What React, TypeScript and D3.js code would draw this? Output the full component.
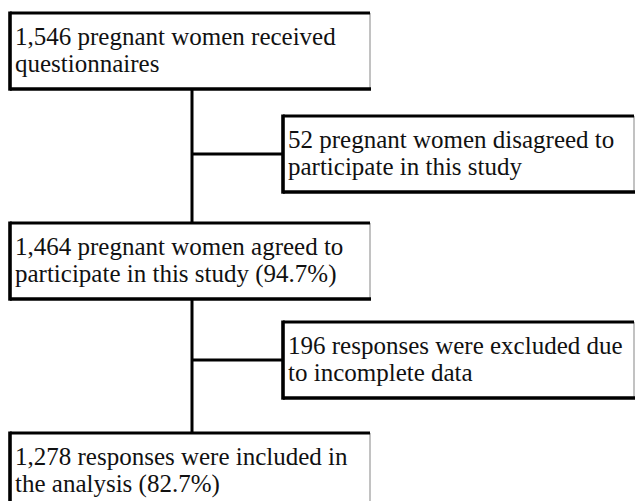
import React from "react";
import * as d3 from "d3";

const mainSteps: string[][] = [
  ["1,546 pregnant women received", "questionnaires"],
  ["1,464 pregnant women agreed to", "participate in this study (94.7%)"],
  ["1,278 responses were included in", "the analysis (82.7%)"],
];
const sideSteps: string[][] = [
  ["52 pregnant women disagreed to", "participate in this study"],
  ["196 responses were excluded due", "to incomplete data"],
];

const W = 637;
const H = 501;
const BOX_H = 76;
const mainX0 = 10, mainX1 = 370;
const sideX0 = 283, sideX1 = 634;
const spine = 192;
const mainTops = [13, 223, 433];
const sideTops = [116, 322];

const FONT = "'Liberation Serif', 'Times New Roman', serif";

function Box({ x0, x1, y0, lines }: { x0: number; x1: number; y0: number; lines: string[] }) {
  const y1 = y0 + BOX_H;
  const ly = d3.scaleLinear().domain([0, 1]).range([y0 + 32, y0 + 59]);
  return (
    <g>
      <rect x={x0} y={y0} width={x1 - x0} height={BOX_H} fill="#fff" />
      <line x1={x1} y1={y0} x2={x1} y2={y1} stroke="#999" strokeWidth={1.2} />
      <line x1={x0} y1={y0} x2={x1} y2={y0} stroke="#000" strokeWidth={3} />
      <line x1={x0} y1={y1} x2={x1 + 1} y2={y1} stroke="#000" strokeWidth={3.4} />
      <line x1={x0} y1={y0 - 1.5} x2={x0} y2={y1 + 1.7} stroke="#000" strokeWidth={3.6} />
      {lines.map((t, i) => (
        <text key={i} x={x0 + 5} y={ly(i)} fontFamily={FONT} fontSize={25} fill="#111">
          {t}
        </text>
      ))}
    </g>
  );
}

export default function App() {
  return (
    <svg
      width={W}
      height={H}
      style={{ position: "absolute", left: 0, top: 0, background: "#fff" }}
    >
      <line x1={spine} y1={mainTops[0] + BOX_H} x2={spine} y2={mainTops[2]} stroke="#000" strokeWidth={3} />
      {sideTops.map((t, i) => (
        <line key={i} x1={spine} y1={t + BOX_H / 2} x2={sideX0} y2={t + BOX_H / 2} stroke="#000" strokeWidth={3} />
      ))}
      {mainSteps.map((lines, i) => (
        <Box key={"m" + i} x0={mainX0} x1={mainX1} y0={mainTops[i]} lines={lines} />
      ))}
      {sideSteps.map((lines, i) => (
        <Box key={"s" + i} x0={sideX0} x1={sideX1} y0={sideTops[i]} lines={lines} />
      ))}
    </svg>
  );
}
